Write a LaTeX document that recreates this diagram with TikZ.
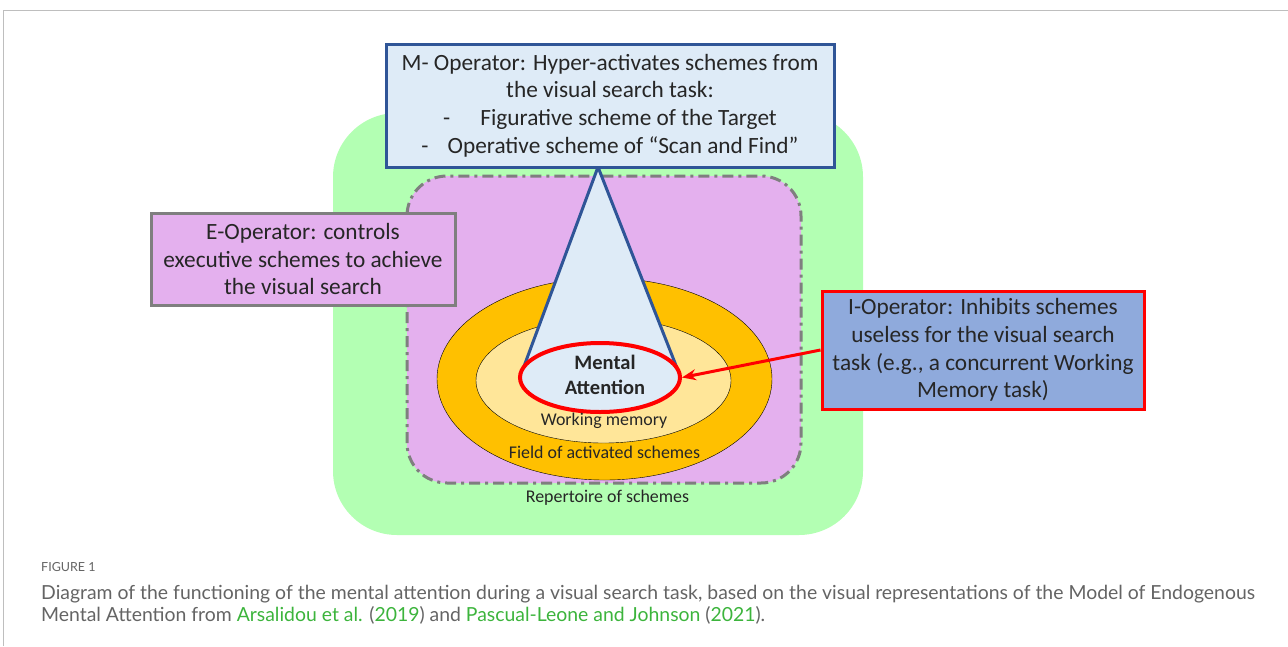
\documentclass[tikz,border=0pt]{standalone}
\usepackage{fontspec}
\setmainfont{Carlito}
\newfontfamily\capfont{Lato}
\usetikzlibrary{shapes.geometric, arrows.meta, positioning}
\definecolor{repgreen}{RGB}{179,255,179}
\definecolor{fieldpink}{RGB}{228,176,238}
\definecolor{actorange}{RGB}{255,192,0}
\definecolor{wmyellow}{RGB}{255,230,153}
\definecolor{attblue}{RGB}{222,235,247}
\definecolor{mblue}{RGB}{47,85,151}
\definecolor{iblue}{RGB}{143,170,220}
\definecolor{egray}{RGB}{127,127,127}
\definecolor{capgray}{RGB}{100,100,100}
\definecolor{citegreen}{RGB}{60,180,60}
\definecolor{framegray}{RGB}{190,190,190}

\begin{document}
\begin{tikzpicture}[x=1pt, y=-1pt,
    opbox/.style={draw, line width=3pt, align=center, inner sep=0pt,
        font=\fontsize{23.3}{27.7}\selectfont},
    lbl/.style={font=\fontsize{17.9}{20}\selectfont, inner sep=0pt},
    captext/.style={anchor=base west, inner sep=0pt, text=capgray,
        font=\capfont\fontsize{19.4}{22}\selectfont},
    every node/.style={text=black!85}]
    \useasboundingbox (0,0) rectangle (1288,646);
    \draw[framegray] (3,646) -- (3,10) -- (1288,10);

    % repertoire and field of activated schemes
    \fill[repgreen, rounded corners=64pt] (333,113) rectangle (863,535);
    \filldraw[fill=fieldpink, draw=egray, line width=3pt, rounded corners=40pt,
        dash pattern=on 11pt off 5pt on 3pt off 5pt] (407,176) rectangle (801,483);
    \filldraw[fill=actorange, draw=black, thin] (604.5,379) ellipse (167.5 and 101);
    \filldraw[fill=wmyellow, draw=black, thin] (603.5,380.5) ellipse (127.5 and 62.5);

    % cone of mental attention
    \coordinate (apex) at (598,167);
    \coordinate (baseL) at (523,369);
    \coordinate (baseR) at (677,368);
    \filldraw[fill=attblue, draw=mblue, line width=3pt, line join=round]
        (baseL) -- (apex) -- (baseR);
    \node[ellipse, draw=red, line width=4pt, fill=attblue, minimum width=160,
        minimum height=69, inner sep=0pt] (att) at (600,377.5) {};
    \node[font=\bfseries\fontsize{20.5}{25}\selectfont, align=center, inner sep=0pt]
        (attlbl) at (605,374.5) {Mental\\Attention};

    \node[lbl] (wm) at (604,421) {Working memory};
    \node[lbl] (field) at (604.5,452) {Field of activated schemes};
    \node[lbl] (rep) at (607.5,498) {Repertoire of schemes};

    % operators
    \node[opbox, draw=mblue, fill=attblue, minimum width=448, minimum height=123]
        (mop) at (610,105.5) {M- Operator: Hyper-activates schemes from\\
        the visual search task:\\
        -\hspace{30pt}Figurative scheme of the Target\\
        -\hspace{19pt}Operative scheme of “Scan and Find”};
    \node[opbox, draw=egray, fill=fieldpink, minimum width=304, minimum height=92]
        (eop) at (303,259) {E-Operator: controls\\executive schemes to achieve\\the visual search};
    \node[opbox, draw=red, fill=iblue, minimum width=322, minimum height=118]
        (iop) at (983,350) {I-Operator: Inhibits schemes\\useless for the visual search\\task (e.g., a concurrent Working\\Memory task)};

    \draw[red, line width=3pt, -{Stealth[length=14pt, width=11pt]}] (iop.west) -- (att.east);

    % caption
    \node[captext, font=\capfont\fontsize{12.5}{15}\selectfont] (fig) at (41,571) {FIGURE 1};
    \node[captext] (cap1) at (41,599)
        {Diagram of the functioning of the mental attention during a visual search task, based on the visual representations of the Model of Endogenous};
    \node[captext] (cap2) at (41,621)
        {Mental Attention from \textcolor{citegreen}{Arsalidou et al.} (\textcolor{citegreen}{2019}) and \textcolor{citegreen}{Pascual-Leone and Johnson} (\textcolor{citegreen}{2021}).};
\end{tikzpicture}
\end{document}
